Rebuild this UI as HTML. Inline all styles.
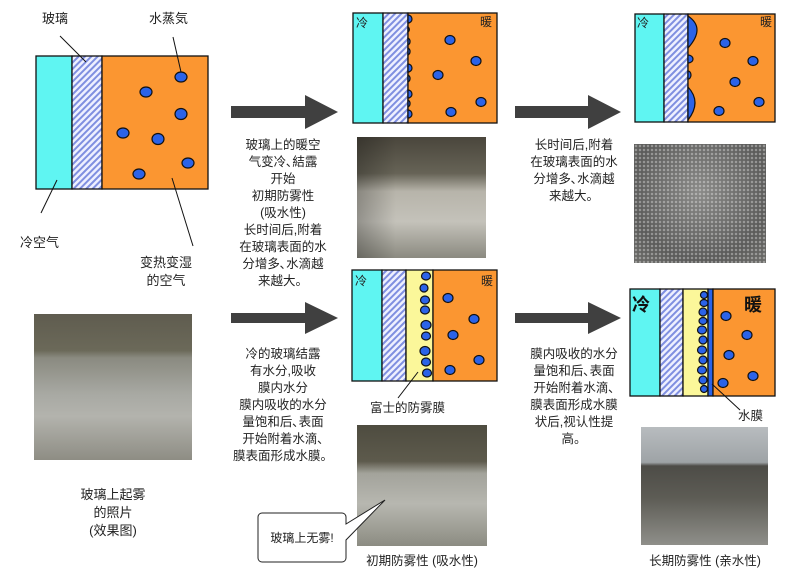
<!DOCTYPE html>
<html><head><meta charset="utf-8"><style>
body{margin:0;background:#fff;width:790px;height:588px;overflow:hidden;position:relative;font-family:"Liberation Sans","Noto Sans CJK SC",sans-serif;color:#222}
.t{position:absolute;font-size:12.5px;line-height:17px;text-align:center;white-space:nowrap}
.p{position:absolute}
</style></head><body>
<svg width="790" height="588" style="position:absolute;left:0;top:0">
<defs>
<pattern id="h" width="4.5" height="4.5" patternUnits="userSpaceOnUse" patternTransform="rotate(45)">
<rect width="4.5" height="4.5" fill="#eef0ff"/><rect width="2" height="4.5" fill="#7f8fe0"/></pattern>
</defs>
<g stroke="#111" stroke-width="1.3">
<rect x="36" y="56" width="36" height="133" fill="#5ff5f2"/>
<rect x="72" y="56" width="30" height="133" fill="url(#h)"/>
<rect x="102" y="56" width="106" height="133" fill="#fb9631"/>
<rect x="353" y="13" width="30" height="110" fill="#5ff5f2"/>
<rect x="383" y="13" width="25" height="110" fill="url(#h)"/>
<rect x="408" y="13" width="89" height="110" fill="#fb9631"/>
<rect x="635" y="14" width="29" height="108" fill="#5ff5f2"/>
<rect x="664" y="14" width="24" height="108" fill="url(#h)"/>
<rect x="688" y="14" width="87" height="108" fill="#fb9631"/>
<rect x="352" y="270" width="30" height="111" fill="#5ff5f2"/>
<rect x="382" y="270" width="24" height="111" fill="url(#h)"/>
<rect x="406" y="270" width="27" height="111" fill="#fbf79a"/>
<rect x="433" y="270" width="64" height="111" fill="#fb9631"/>
<rect x="630" y="289" width="30" height="107" fill="#5ff5f2"/>
<rect x="660" y="289" width="23" height="107" fill="url(#h)"/>
<rect x="683" y="289" width="25" height="107" fill="#fbf79a"/>
<rect x="708" y="289" width="5" height="107" fill="#2b63e8"/>
<rect x="713" y="289" width="62" height="107" fill="#fb9631"/>
</g>
<g fill="#2b63e8" stroke="#111" stroke-width="1.2">
<ellipse cx="181" cy="77" rx="6" ry="5"/><ellipse cx="146" cy="92" rx="6" ry="5"/><ellipse cx="181" cy="114" rx="6" ry="5.5"/>
<ellipse cx="123" cy="133" rx="6" ry="5"/><ellipse cx="158" cy="139" rx="6" ry="5.5"/><ellipse cx="188" cy="163" rx="6" ry="5"/><ellipse cx="139" cy="174" rx="6" ry="5"/>
<ellipse cx="450" cy="40" rx="5" ry="4.5"/><ellipse cx="476" cy="61" rx="5" ry="4.5"/><ellipse cx="438" cy="75" rx="5" ry="4.5"/><ellipse cx="481" cy="102" rx="5" ry="4.5"/><ellipse cx="451" cy="112" rx="5" ry="4.5"/>
<path d="M408 15 a4 4 0 0 1 0 8Z M408 27 a3 3 0 0 1 0 5Z M408 38 a4 4 0 0 1 0 7Z M408 48 a4 4 0 0 1 0 7Z M408 64 a4 4 0 0 1 0 8Z M408 75 a4 4 0 0 1 0 7Z M408 90 a4 4 0 0 1 0 8Z M408 100 a4 4 0 0 1 0 7Z M408 110 a4 4 0 0 1 0 8Z"/>
<ellipse cx="725" cy="43" rx="5" ry="4.5"/><ellipse cx="753" cy="61" rx="5" ry="4.5"/><ellipse cx="735" cy="82" rx="5" ry="4.5"/><ellipse cx="759" cy="102" rx="5" ry="4.5"/><ellipse cx="719" cy="111" rx="5" ry="4.5"/>
<path d="M688 16 q18 12 0 32Z M688 55 a5 4 0 0 1 0 8Z M688 71 a3 4 0 0 1 0 8Z M688 87 q14 15 0 33Z"/>
<g><ellipse cx="426" cy="276" rx="4.5" ry="4"/><ellipse cx="424" cy="288" rx="4" ry="4"/><ellipse cx="425" cy="300" rx="4.5" ry="4"/><ellipse cx="425" cy="310" rx="4.5" ry="4"/><ellipse cx="426" cy="325" rx="5" ry="4.5"/><ellipse cx="426" cy="336" rx="4.5" ry="4"/><ellipse cx="425" cy="351" rx="5" ry="4.5"/><ellipse cx="426" cy="362" rx="4.5" ry="4"/><ellipse cx="427" cy="373" rx="4.5" ry="4"/></g>
<ellipse cx="448" cy="298" rx="5" ry="4.5"/><ellipse cx="474" cy="319" rx="5" ry="4.5"/><ellipse cx="453" cy="335" rx="5" ry="4.5"/><ellipse cx="479" cy="360" rx="5" ry="4.5"/><ellipse cx="450" cy="370" rx="5" ry="4.5"/>
<g><ellipse cx="704" cy="295" rx="3.5" ry="3.5"/><ellipse cx="704" cy="303" rx="4" ry="3.5"/><ellipse cx="703" cy="312" rx="4" ry="4"/><ellipse cx="703" cy="321" rx="4" ry="3.5"/><ellipse cx="702" cy="330" rx="4.5" ry="4"/><ellipse cx="703" cy="340" rx="4" ry="4"/><ellipse cx="702" cy="350" rx="4.5" ry="4"/><ellipse cx="703" cy="360" rx="4" ry="4"/><ellipse cx="702" cy="370" rx="4.5" ry="4"/><ellipse cx="703" cy="380" rx="4" ry="4"/><ellipse cx="704" cy="389" rx="3.5" ry="3.5"/></g>
<ellipse cx="726" cy="316" rx="5" ry="4.5"/><ellipse cx="747" cy="335" rx="5" ry="4.5"/><ellipse cx="729" cy="355" rx="5" ry="4.5"/><ellipse cx="753" cy="376" rx="5" ry="4.5"/><ellipse cx="723" cy="383" rx="5" ry="4.5"/>
</g>
<g stroke="#111" stroke-width="1" fill="none">
<line x1="60" y1="36" x2="86" y2="62"/><line x1="173" y1="37" x2="181" y2="72"/>
<line x1="57" y1="180" x2="41" y2="213"/><line x1="172" y1="178" x2="193" y2="246"/>
<line x1="418" y1="372" x2="398" y2="398"/><line x1="712" y1="384" x2="740" y2="410"/>
</g>
<g fill="#404040">
<polygon points="231,106 305,106 305,95 338,112 305,129 305,118 231,118"/>
<polygon points="515,106 588,106 588,95 621,112 588,129 588,118 515,118"/>
<polygon points="231,313 305,313 305,302 338,318 305,334 305,323 231,323"/>
<polygon points="515,313 588,313 588,302 621,318 588,334 588,323 515,323"/>
</g>
<g font-family="Liberation Sans,Noto Sans CJK SC,sans-serif" fill="#222">
<text x="356" y="27" font-size="12">冷</text><text x="480" y="26" font-size="12">暖</text>
<text x="637" y="27" font-size="12">冷</text><text x="760" y="26" font-size="12">暖</text>
<text x="355" y="285" font-size="12">冷</text><text x="481" y="285" font-size="12">暖</text>
<text x="632" y="311" font-size="18" font-weight="bold" fill="#111">冷</text><text x="744" y="311" font-size="18" font-weight="bold" fill="#111">暖</text>
</g>
</svg>
<div class="p" style="left:34px;top:314px;width:158px;height:146px;background:linear-gradient(#5f5c4f 0%,#6b6959 25%,#8a8a80 30%,#a8a9a3 55%,#b3b3ad 70%,#8e8d84 100%)"></div>
<div class="p" style="left:357px;top:137px;width:129px;height:121px;background:linear-gradient(90deg,rgba(0,0,0,.25),rgba(0,0,0,0) 30%),linear-gradient(#4a463c 0%,#666356 30%,#b7b4aa 45%,#c4c2ba 70%,#8b8a80 100%)"></div>
<div class="p" style="left:634px;top:144px;width:132px;height:119px;background:radial-gradient(circle,rgba(255,255,255,.35) 1px,transparent 1.5px) 0 0/4px 4px,radial-gradient(circle at 50% 40%,#8a8a88,#5b5b5a 70%,#6c6c69)"></div>
<div class="p" style="left:357px;top:425px;width:130px;height:121px;background:linear-gradient(#4e4c40 0%,#5d5a4c 30%,#a3a39b 40%,#b7b7b0 65%,#8c8c82 100%)"></div>
<div class="p" style="left:641px;top:427px;width:127px;height:118px;background:linear-gradient(#b8bcbf 0%,#9ea3a6 30%,#4d4c47 33%,#5d5c55 60%,#8f8f8a 100%)"></div>
<svg width="790" height="588" style="position:absolute;left:0;top:0">
<path d="M262 513 H342 a4 4 0 0 1 4 4 V524 L385 500 L346 540 V558 a4 4 0 0 1 -4 4 H262 a4 4 0 0 1 -4 -4 V517 a4 4 0 0 1 4 -4Z" fill="#fff" stroke="#222" stroke-width="1"/>
</svg>
<div class="t" style="left:42px;top:10px;font-size:13px">玻璃</div>
<div class="t" style="left:149px;top:10px;font-size:13px">水蒸気</div>
<div class="t" style="left:20px;top:234px;font-size:13px">冷空气</div>
<div class="t" style="left:140px;top:254px;font-size:13px;line-height:18px">变热变湿<br>的空气</div>
<div class="t" style="left:233px;top:137px;width:100px">玻璃上的暖空<br>气变冷､結露<br>开始<br>初期防雾性<br>(吸水性)<br>长时间后,附着<br>在玻璃表面的水<br>分增多､水滴越<br>来越大。</div>
<div class="t" style="left:520px;top:137px;width:108px">长时间后,附着<br>在玻璃表面的水<br>分增多､水滴越<br>来越大。</div>
<div class="t" style="left:233px;top:346px;width:100px">冷的玻璃结露<br>有水分,吸收<br>膜内水分<br>膜内吸收的水分<br>量饱和后､表面<br>开始附着水滴､<br>膜表面形成水膜。</div>
<div class="t" style="left:520px;top:346px;width:108px">膜内吸收的水分<br>量饱和后､表面<br>开始附着水滴､<br>膜表面形成水膜<br>状后,视认性提<br>高。</div>
<div class="t" style="left:63px;top:486px;width:100px;font-size:13px;line-height:18px">玻璃上起雾<br>的照片<br>(效果图)</div>
<div class="t" style="left:370px;top:400px;font-size:12.5px">富士的防雾膜</div>
<div class="t" style="left:738px;top:408px;font-size:12.5px">水膜</div>
<div class="t" style="left:262px;top:530px;width:80px;font-size:12px">玻璃上无雾!</div>
<div class="t" style="left:362px;top:553px;width:120px">初期防雾性 (吸水性)</div>
<div class="t" style="left:645px;top:553px;width:120px">长期防雾性 (亲水性)</div>
</body></html>
